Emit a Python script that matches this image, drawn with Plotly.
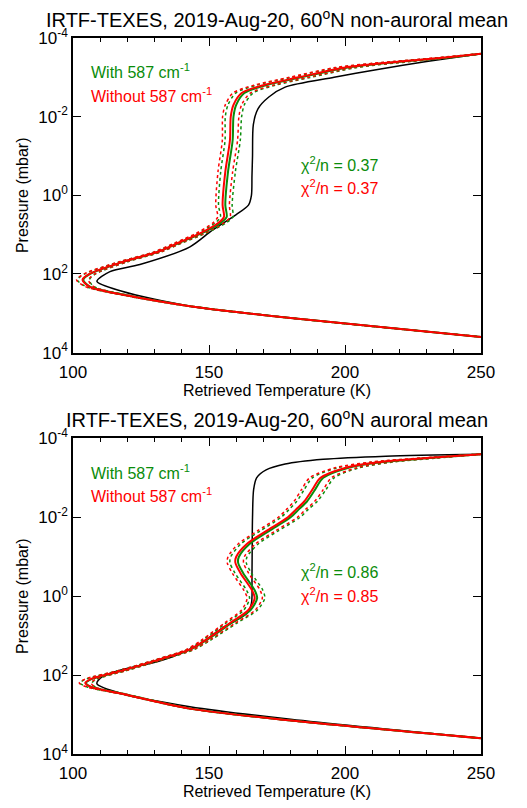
import plotly.graph_objects as go

# ---------------- Non-auroral mean (upper panel) ----------------
logp_prior_na = [-3.6, -3.4, -3.2, -3.0, -2.75, -2.5, -2.2, -1.8, -1.0, -0.5, 0.0, 0.25,
                 0.49, 0.9, 1.31, 1.76, 1.94, 2.19, 2.44, 2.82, 3.12, 3.6]
temp_prior_na = [250, 230, 212, 196, 178, 172, 168, 166.3, 166, 165.8, 165.6, 164.5,
                 160, 151, 143, 124.6, 113.6, 108.8, 118, 143, 180, 250]

logp_ret_na = [-3.6, -3.5, -3.4, -3.25, -3.0, -2.8, -2.6, -2.3, -2.0, -1.4, -0.6, 0.25,
               0.55, 0.7, 0.97, 1.2, 1.44, 1.69, 2.0, 2.15, 2.32, 2.55, 2.82, 3.12, 3.6]
temp_without_na = [250, 236, 220, 200, 183, 170, 162, 159, 158, 157.7, 156, 155,
                   155.5, 153.5, 146.7, 139, 131, 118.4, 106, 103.5, 106, 120, 143, 180, 250]
temp_with_na = [250, 237, 221, 201, 184, 171, 163, 160, 159, 158.7, 157, 156,
                156.5, 154.3, 147.2, 139.3, 131.2, 118.6, 106.3, 103.8, 106.2, 120.2, 143.1, 180, 250]
err_na = [0.5, 2.0, 3.0, 3.5, 3.5, 3.5, 3.2, 3.0, 3.0, 2.8, 2.7, 2.5,
          2.3, 2.0, 1.5, 1.2, 1.2, 1.4, 2.0, 2.2, 1.5, 0.8, 0.6, 0.5, 0.5]

# ---------------- Auroral mean (lower panel) ----------------
logp_prior_au = [-3.6, -3.55, -3.47, -3.35, -3.2, -3.0, -2.7, -2.0, -1.5, -0.5, 0.18, 0.43,
                 0.8, 1.25, 1.62, 1.9, 2.05, 2.22, 2.48, 2.8, 3.12, 3.6]
temp_prior_au = [250, 215, 192, 178, 171, 167.5, 166.4, 166, 165.9, 165.8, 165.6, 164,
                 155, 145.6, 133, 116, 110.5, 108.8, 118.4, 143, 180, 250]

logp_ret_au = [-3.6, -3.5, -3.4, -3.25, -3.0, -2.7, -2.4, -2.2, -2.0, -1.65, -1.33, -1.0,
               -0.85, -0.58, -0.15, 0.05, 0.35, 0.68, 1.1, 1.35, 1.62, 1.88, 2.1, 2.2,
               2.3, 2.48, 2.85, 3.15, 3.6]
temp_without_au = [250, 230, 213, 200, 191, 188, 185, 182, 179, 171, 164, 160,
                   159.7, 161.6, 165.8, 166.8, 164.5, 157.7, 149, 143, 131, 118.4, 106.5, 104.5,
                   106.5, 118.4, 143, 180, 250]
temp_with_au = [250, 231, 214, 201, 192, 189, 186, 183, 180, 172, 165, 161,
                160.7, 162.6, 166.8, 167.7, 165.3, 158.3, 149.4, 143.3, 131.2, 118.6, 106.8, 104.8,
                106.7, 118.6, 143.1, 180, 250]
err_au = [0.5, 2.5, 3.5, 4.0, 4.0, 4.0, 3.8, 3.5, 3.5, 3.3, 3.2, 3.0,
          3.0, 3.0, 3.0, 2.8, 2.5, 2.0, 1.5, 1.3, 1.2, 1.4, 2.0, 2.2,
          1.5, 0.8, 0.6, 0.5, 0.5]

GREEN = "#0a8c0a"
RED = "#ff0000"
FONT = "Liberation Sans, Arial, Helvetica, sans-serif"

fig = go.Figure()


def add_panel(xa, ya, logp_prior, temp_prior, logp_ret, t_with, t_without, err):
    pres_prior = [10 ** v for v in logp_prior]
    pres_ret = [10 ** v for v in logp_ret]
    common = dict(xaxis=xa, yaxis=ya, mode="lines", showlegend=False, hoverinfo="skip")
    # a priori profile
    fig.add_trace(go.Scatter(x=temp_prior, y=pres_prior,
                             line=dict(color="black", width=1.5, shape="spline", smoothing=0.8),
                             **common))
    # uncertainty envelopes (dotted)
    for temps, col in ((t_with, GREEN), (t_without, RED)):
        for sgn in (-1, 1):
            fig.add_trace(go.Scatter(x=[t + sgn * e for t, e in zip(temps, err)], y=pres_ret,
                                     line=dict(color=col, width=1.5, dash="dot",
                                               shape="spline", smoothing=0.8),
                                     **common))
    # retrieved profiles
    fig.add_trace(go.Scatter(x=t_with, y=pres_ret,
                             line=dict(color=GREEN, width=2, shape="spline", smoothing=0.8), **common))
    fig.add_trace(go.Scatter(x=t_without, y=pres_ret,
                             line=dict(color=RED, width=2, shape="spline", smoothing=0.8), **common))


add_panel("x", "y", logp_prior_na, temp_prior_na, logp_ret_na, temp_with_na, temp_without_na, err_na)
add_panel("x2", "y2", logp_prior_au, temp_prior_au, logp_ret_au, temp_with_au, temp_without_au, err_au)

p_ticks = [1e-4, 1e-2, 1, 1e2, 1e4]
p_labels = ["10<sup>-4</sup>", "10<sup>-2</sup>", "10<sup>0</sup>", "10<sup>2</sup>", "10<sup>4</sup>"]

xax = dict(range=[100, 250], tickvals=[100, 150, 200, 250], ticks="inside", ticklen=8,
           tickwidth=1.2, tickcolor="black", showline=True, linecolor="black", linewidth=1.5,
           mirror="allticks", showgrid=False, zeroline=False, ticklabelstandoff=3,
           minor=dict(ticks="inside", dtick=10, ticklen=4, tickcolor="black", tickwidth=1.2),
           tickfont=dict(size=17, color="black"),
           title=dict(text="Retrieved Temperature (K)", font=dict(size=16, color="black"), standoff=2))
yax = dict(type="log", range=[4, -4], tickvals=p_ticks, ticktext=p_labels, ticks="inside",
           ticklen=8, tickwidth=1.2, tickcolor="black", showline=True, linecolor="black",
           linewidth=1.5, mirror="allticks", showgrid=False, zeroline=False,
           tickfont=dict(size=17, color="black"),
           title=dict(text="Pressure (mbar)", font=dict(size=16, color="black"), standoff=6))

fig.update_layout(
    width=527, height=808,
    margin=dict(l=73, r=46, t=38, b=44),
    paper_bgcolor="white", plot_bgcolor="white",
    font=dict(family=FONT, color="black"),
    xaxis=dict(xax, anchor="y"),
    yaxis=dict(yax, domain=[0.5606, 1.0], anchor="x"),
    xaxis2=dict(xax, anchor="y2"),
    yaxis2=dict(yax, domain=[0.0, 0.4408], anchor="x2"),
)

titles = [("IRTF-TEXES, 2019-Aug-20, 60<sup>o</sup>N non-auroral mean", "y domain"),
          ("IRTF-TEXES, 2019-Aug-20, 60<sup>o</sup>N auroral mean", "y2 domain")]
for text, yref in titles:
    fig.add_annotation(text=text, xref="x domain", yref=yref, x=0.5, y=1.0, yshift=5,
                       xanchor="center", yanchor="bottom", showarrow=False,
                       font=dict(size=20, color="black"))

labels = [
    ("x domain", "y domain", 0.04, 0.895, "With 587 cm<sup>-1</sup>", GREEN),
    ("x domain", "y domain", 0.04, 0.82, "Without 587 cm<sup>-1</sup>", RED),
    ("x domain", "y domain", 0.555, 0.6, "χ<sup>2</sup>/n = 0.37", GREEN),
    ("x domain", "y domain", 0.555, 0.525, "χ<sup>2</sup>/n = 0.37", RED),
    ("x2 domain", "y2 domain", 0.04, 0.895, "With 587 cm<sup>-1</sup>", GREEN),
    ("x2 domain", "y2 domain", 0.04, 0.82, "Without 587 cm<sup>-1</sup>", RED),
    ("x2 domain", "y2 domain", 0.555, 0.58, "χ<sup>2</sup>/n = 0.86", GREEN),
    ("x2 domain", "y2 domain", 0.555, 0.505, "χ<sup>2</sup>/n = 0.85", RED),
]
for xr, yr, x, y, text, col in labels:
    fig.add_annotation(text=text, xref=xr, yref=yr, x=x, y=y, xanchor="left", yanchor="middle",
                       showarrow=False, font=dict(size=16, color=col))

fig.write_html("out.html")
